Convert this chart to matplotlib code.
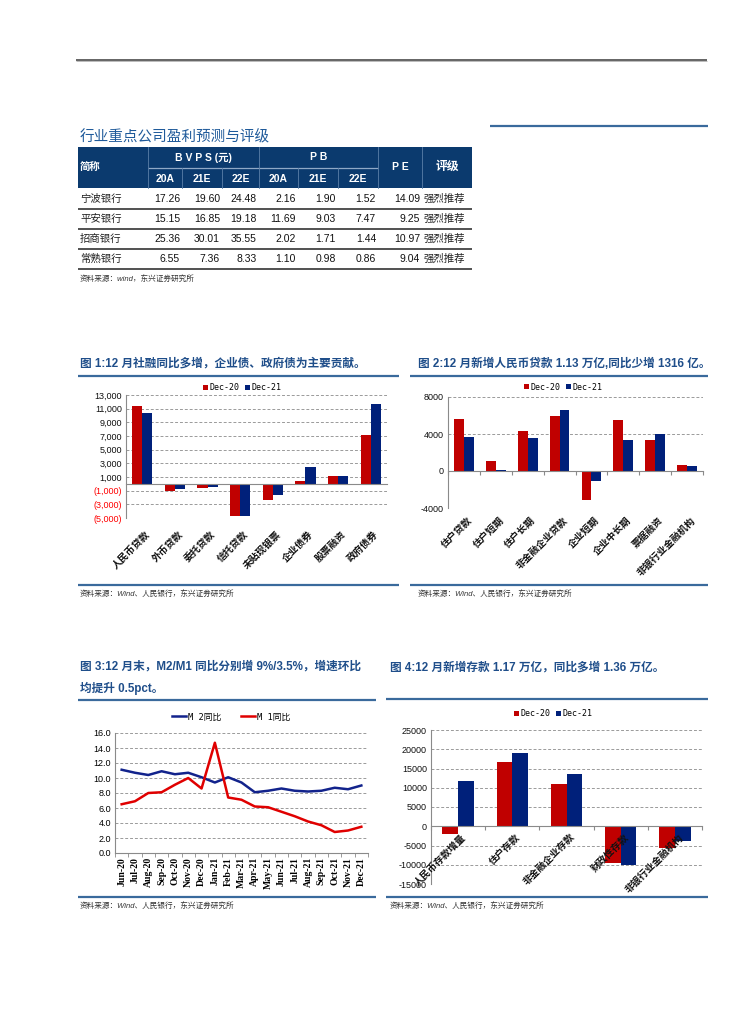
import numpy as np
import matplotlib
matplotlib.use('Agg')
import matplotlib.pyplot as plt
from matplotlib.lines import Line2D
from matplotlib.patches import Rectangle
from matplotlib.transforms import ScaledTranslation

plt.rcParams['font.family'] = ['Liberation Sans', 'Noto Sans CJK SC']
plt.rcParams['axes.unicode_minus'] = False

# ---------------- data ----------------
table_banks = ['宁波银行', '平安银行', '招商银行', '常熟银行']
bvps_20a = [17.26, 15.15, 25.36, 6.55]
bvps_21e = [19.60, 16.85, 30.01, 7.36]
bvps_22e = [24.48, 19.18, 35.55, 8.33]
pb_20a = [2.16, 11.69, 2.02, 1.10]
pb_21e = [1.90, 9.03, 1.71, 0.98]
pb_22e = [1.52, 7.47, 1.44, 0.86]
pe_20a = [14.09, 9.25, 10.97, 9.04]
ratings = ['强烈推荐', '强烈推荐', '强烈推荐', '强烈推荐']
table_sub_headers = ['20A', '21E', '22E', '20A', '21E', '22E']

c1_cats = ['人民币贷款', '外币贷款', '委托贷款', '信托贷款', '未贴现银票', '企业债券', '股票融资', '政府债券']
c1_dec20 = [11420, -1100, -660, -4700, -2320, 370, 1100, 7170]
c1_dec21 = [10350, -760, -510, -4680, -1690, 2420, 1100, 11670]

c2_cats = ['住户贷款', '住户短期', '住户长期', '非金融企业贷款', '企业短期', '企业中长期', '票据融资', '非银行业金融机构']
c2_dec20 = [5660, 1120, 4360, 5950, -3140, 5480, 3320, 690]
c2_dec21 = [3710, 150, 3530, 6630, -1120, 3390, 4040, 500]

c3_months = ['Jun-20', 'Jul-20', 'Aug-20', 'Sep-20', 'Oct-20', 'Nov-20', 'Dec-20', 'Jan-21', 'Feb-21',
             'Mar-21', 'Apr-21', 'May-21', 'Jun-21', 'Jul-21', 'Aug-21', 'Sep-21', 'Oct-21', 'Nov-21', 'Dec-21']
c3_m2 = [11.1, 10.7, 10.4, 10.9, 10.5, 10.7, 10.1, 9.4, 10.1, 9.4, 8.1, 8.3, 8.6, 8.3, 8.2, 8.3, 8.7, 8.5, 9.0]
c3_m1 = [6.5, 6.9, 8.0, 8.1, 9.1, 10.0, 8.6, 14.7, 7.4, 7.1, 6.2, 6.1, 5.5, 4.9, 4.2, 3.7, 2.8, 3.0, 3.5]

c4_cats = ['人民币存款增量', '住户存款', '非金融企业存款', '财政性存款', '非银行业金融机构']
c4_dec20 = [-1990, 16760, 10970, -9590, -5620]
c4_dec21 = [11660, 18920, 13650, -10190, -3890]

# ---------------- style ----------------
RED = '#C00000'
BLUE = '#00207A'
TITLE_C = '#1F4E8A'
LINE_C = '#3A6A9C'
HEAD_C = '#0B3A6E'
GRID_C = '#9A9A9A'
SRC = '资料来源：Wind、人民银行，东兴证券研究所'
MONO = ['DejaVu Sans Mono', 'Noto Sans CJK SC']

W, H = 755, 1024
fig = plt.figure(figsize=(7.55, 10.24), dpi=100)


def fx(x):
    return x / W


def fy(y):
    return 1 - y / H


def hline(x0, x1, y, color, lw):
    fig.add_artist(Line2D([fx(x0), fx(x1)], [fy(y), fy(y)], color=color, lw=lw,
                          transform=fig.transFigure, solid_capstyle='butt'))


def vline(x, y0, y1, color, lw):
    fig.add_artist(Line2D([fx(x), fx(x)], [fy(y0), fy(y1)], color=color, lw=lw,
                          transform=fig.transFigure))


def ftext(x, y, s, **kw):
    kw.setdefault('va', 'center')
    fig.text(fx(x), fy(y), s, **kw)


def add_ax(l, t, r, b):
    return fig.add_axes([fx(l), fy(b), (r - l) / W, (b - t) / H])


# ---------------- page header ----------------
hline(76, 707, 59.5, '#3a3a3a', 1.1)
hline(76, 707, 60.8, '#b0b0b0', 0.6)

# ---------------- table ----------------
ftext(80, 137, '行业重点公司盈利预测与评级', fontsize=10.5, color='#1F5A9A', ha='left')
hline(490, 708, 126, LINE_C, 1.6)

col_edges = [78, 148, 182, 222, 259, 298, 338, 378, 422, 472]
fig.add_artist(Rectangle((fx(78), fy(188)), (472 - 78) / W, (188 - 147) / H,
                         transform=fig.transFigure, facecolor=HEAD_C, edgecolor='none'))
sep_c = '#5B7FA8'
hline(148, 378, 168, '#8FA8C6', 0.9)
vline(148, 147, 188, sep_c, 0.6)
vline(259, 147, 188, sep_c, 0.6)
vline(378, 147, 188, sep_c, 0.6)
vline(422, 147, 188, sep_c, 0.6)
for xe in [182, 222, 298, 338]:
    vline(xe, 168, 188, sep_c, 0.6)
hw = dict(color='white', fontweight='bold', fontsize=7.5)
ftext(80, 167, '简称', ha='left', **hw)
ftext((148 + 259) / 2, 157.5, 'B V P S (元)', ha='center', **hw)
ftext((259 + 378) / 2, 157.5, 'P B', ha='center', **hw)
ftext(400, 167, 'P E', ha='center', **hw)
ftext(447, 167, '评级', ha='center', color='white', fontweight='bold', fontsize=8.5)
for i, s in enumerate(table_sub_headers):
    ftext((col_edges[i + 1] + col_edges[i + 2]) / 2, 178.5, s, ha='center', **hw)

num_cols = [bvps_20a, bvps_21e, bvps_22e, pb_20a, pb_21e, pb_22e, pe_20a]
for r, bank in enumerate(table_banks):
    yc = 199 + 20 * r
    ftext(80, yc, bank, ha='left', fontsize=7.5, color='#222')
    for c, col in enumerate(num_cols):
        ftext(col_edges[c + 2] - 2, yc, f'{col[r]:.2f}', ha='right', fontsize=7.5, color='#111')
    ftext(424, yc, ratings[r], ha='left', fontsize=7.5, color='#222')
    hline(78, 472, 209 + 20 * r, '#222222', 1.1)
ftext(80, 279, '资料来源：wind，东兴证券研究所', ha='left', fontsize=5.5, style='italic', color='#333')


# ---------------- helpers for bar charts ----------------
def bar_chart(ax, cats, d20, d21, width, ylim, ticks, fmt, neg_red, lab_dy, at_zero, tick_marks):
    n = len(cats)
    x = np.arange(n)
    b1 = ax.bar(x - width / 2, d20, width, color=RED, label='Dec-20', zorder=3)
    b2 = ax.bar(x + width / 2, d21, width, color=BLUE, label='Dec-21', zorder=3)
    ax.set_xlim(-0.5, n - 0.5)
    ax.set_ylim(*ylim)
    ax.set_yticks(ticks)
    ax.set_yticklabels([fmt(t) for t in ticks])
    for t, lab in zip(ticks, ax.get_yticklabels()):
        lab.set_color('red' if (neg_red and t < 0) else '#111')
    ax.tick_params(axis='y', length=0, labelsize=6.5, pad=3)
    for t in ticks:
        if t != 0:
            ax.axhline(t, color=GRID_C, lw=0.7, ls=(0, (3, 2)), zorder=1)
    ax.spines['top'].set_visible(False)
    ax.spines['right'].set_visible(False)
    ax.spines['left'].set_color('#8a8a8a')
    ax.spines['left'].set_linewidth(0.8)
    ax.spines['bottom'].set_position(('data', 0))
    ax.spines['bottom'].set_color('#8a8a8a')
    ax.spines['bottom'].set_linewidth(0.8)
    ax.spines['bottom'].set_zorder(4)
    if tick_marks:
        ax.set_xticks(np.arange(n + 1) - 0.5)
        ax.tick_params(axis='x', length=3, color='#8a8a8a', direction='out', labelbottom=False)
    else:
        ax.set_xticks([])
    ybase = 0 if at_zero else ylim[0]
    off = ScaledTranslation(2 / 72, lab_dy / 72, fig.dpi_scale_trans)
    for i, c in enumerate(cats):
        ax.text(i, ybase, c, rotation=45, ha='right', va='top', rotation_mode='anchor',
                fontsize=7, fontweight='bold', color='#111', transform=ax.transData + off,
                clip_on=False)
    return b1, b2


def title_block(x, y, lines, x0, x1, yl):
    for k, s in enumerate(lines):
        ftext(x, y + 21 * k, s, ha='left', fontsize=8.4, fontweight='bold', color=TITLE_C)
    hline(x0, x1, yl, LINE_C, 1.6)


def source_block(x0, x1, yl, xt):
    hline(x0, x1, yl, LINE_C, 1.6)
    ftext(xt, yl + 9, SRC, ha='left', fontsize=5.5, style='italic', color='#333')


def comma_paren(v):
    if v < 0:
        return f'({abs(v):,})'
    return f'{v:,}'


# ---------------- chart 1 ----------------
title_block(80, 364, ['图 1:12 月社融同比多增，企业债、政府债为主要贡献。'], 78, 399, 375.5)
ax1 = add_ax(126, 395, 387, 518)
h1 = bar_chart(ax1, c1_cats, c1_dec20, c1_dec21, 0.31, (-5000, 13000),
               list(range(-5000, 13001, 2000)), comma_paren, True, -8, False, False)
ax1.legend(handles=h1, loc='center', bbox_to_anchor=(fx(242), fy(388)), bbox_transform=fig.transFigure,
           ncol=2, frameon=False, handlelength=0.6, handleheight=0.6, handletextpad=0.2,
           columnspacing=0.6, prop={'family': MONO, 'size': 6})
source_block(78, 399, 584.5, 80)

# ---------------- chart 2 ----------------
title_block(418, 364, ['图 2:12 月新增人民币贷款 1.13 万亿,同比少增 1316 亿。'], 410, 708, 375.5)
ax2 = add_ax(448, 397, 703, 508)
h2 = bar_chart(ax2, c2_cats, c2_dec20, c2_dec21, 0.31, (-4000, 8000),
               [-4000, 0, 4000, 8000], lambda v: f'{v}', False, -5, False, True)
ax2.legend(handles=h2, loc='center', bbox_to_anchor=(fx(563), fy(387)), bbox_transform=fig.transFigure,
           ncol=2, frameon=False, handlelength=0.6, handleheight=0.6, handletextpad=0.2,
           columnspacing=0.6, prop={'family': MONO, 'size': 6})
source_block(410, 708, 584.5, 418)

# ---------------- chart 3 ----------------
title_block(80, 667, ['图 3:12 月末，M2/M1 同比分别增 9%/3.5%，增速环比', '均提升 0.5pct。'], 78, 376, 700)
ax3 = add_ax(115, 733, 368, 853)
x3 = np.arange(len(c3_months))
l1, = ax3.plot(x3, c3_m2, color='#12238C', lw=1.8, label='M 2同比', zorder=3)
l2, = ax3.plot(x3, c3_m1, color='#E00000', lw=1.8, label='M 1同比', zorder=3)
ax3.set_xlim(-0.5, len(c3_months) - 0.5)
ax3.set_ylim(0, 16)
yt3 = np.arange(0, 16.01, 2)
ax3.set_yticks(yt3)
ax3.set_yticklabels([f'{v:.1f}' for v in yt3])
ax3.tick_params(axis='y', length=0, labelsize=6.5, pad=3)
for t in yt3[1:]:
    ax3.axhline(t, color=GRID_C, lw=0.7, ls=(0, (3, 2)), zorder=1)
ax3.set_xticks(x3)
ax3.set_xticklabels(c3_months, rotation=90, fontsize=7, fontweight='bold', family='Liberation Serif')
ax3.set_xticks(np.arange(len(c3_months) + 1) - 0.5, minor=True)
ax3.tick_params(axis='x', which='major', length=0, pad=3)
ax3.tick_params(axis='x', which='minor', length=3, color='#8a8a8a')
for s in ['top', 'right']:
    ax3.spines[s].set_visible(False)
for s in ['left', 'bottom']:
    ax3.spines[s].set_color('#8a8a8a')
    ax3.spines[s].set_linewidth(0.8)
ax3.legend(handles=[l1, l2], loc='center', bbox_to_anchor=(fx(231), fy(717)), bbox_transform=fig.transFigure,
           ncol=2, frameon=False, handlelength=1.6, handletextpad=0.3, columnspacing=2.2,
           prop={'family': MONO, 'size': 6.3})
source_block(78, 376, 897, 80)

# ---------------- chart 4 ----------------
title_block(390, 668, ['图 4:12 月新增存款 1.17 万亿，同比多增 1.36 万亿。'], 386, 708, 699)
ax4 = add_ax(431, 730, 702, 884)
h4 = bar_chart(ax4, c4_cats, c4_dec20, c4_dec21, 0.29, (-15000, 25000),
               list(range(-15000, 25001, 5000)), lambda v: f'{v}', False, -4, True, True)
ax4.legend(handles=h4, loc='center', bbox_to_anchor=(fx(553), fy(714)), bbox_transform=fig.transFigure,
           ncol=2, frameon=False, handlelength=0.6, handleheight=0.6, handletextpad=0.2,
           columnspacing=0.6, prop={'family': MONO, 'size': 6})
source_block(386, 708, 897, 390)

fig.savefig('out.png', dpi=100)
